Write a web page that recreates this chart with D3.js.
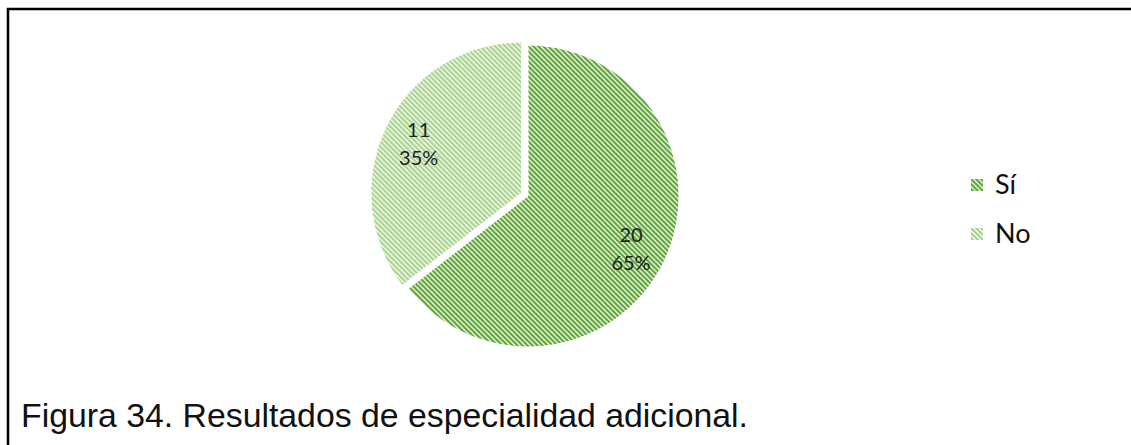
<!doctype html>
<html>
<head>
  <style>
      body { margin:0; background:#fff; }
      svg  { display:block; }
      .lbl { font-family:Lato, "Open Sans", sans-serif; font-size:20px; fill:#222; text-anchor:middle; }
      .leg { font-family:Lato, "Open Sans", sans-serif; font-size:27px; fill:#111; }
      .cap { font-family:"Liberation Sans", Arial, sans-serif; font-size:33px; fill:#111; }
  </style>
  <script src="https://d3js.org/d3.v7.min.js"></script>
</head>
<body>
  <script>
      // data
      var categories = ["Sí", "No"];
      var counts = [20, 11];
      var percents = ["65%", "35%"];
      var fgColors = ["#5fa23a", "#a3cf87"];
      var bgColors = ["#d6ebc9", "#f0f8ea"];

      var W = 1131, H = 445;
      var cx = 528, cy = 196, R = 151;
      var explode = [0, 7];

      var svg = d3.select("body").append("svg")
         .attr("width", W)
         .attr("height", H);

      // frame: only top and left lines
      svg.append("line").attr("x1", 7).attr("y1", 9).attr("x2", W).attr("y2", 9)
         .attr("stroke", "#000").attr("stroke-width", 2.5);
      svg.append("line").attr("x1", 8).attr("y1", 8).attr("x2", 8).attr("y2", H)
         .attr("stroke", "#000").attr("stroke-width", 2.5);

      // striped patterns
      var defs = svg.append("defs");
      categories.forEach(function(c, i) {
         var p = defs.append("pattern")
            .attr("id", "pat" + i)
            .attr("patternUnits", "userSpaceOnUse")
            .attr("width", 5).attr("height", 5);
         p.append("rect").attr("width", 5).attr("height", 5).attr("fill", bgColors[i]);
         p.append("path")
            .attr("d", "M-1,-1 L6,6 M-1,4 L1,6 M4,-1 L6,1")
            .attr("stroke", fgColors[i])
            .attr("stroke-width", 1.9);
      });

      var pie = d3.pie().sort(null).value(function(d) { return d; });
      var arcs = pie(counts);
      var arc = d3.arc().innerRadius(0).outerRadius(R);
      var labelArc = d3.arc().innerRadius(R * 0.76).outerRadius(R * 0.76);

      var g = svg.append("g").attr("transform", "translate(" + cx + "," + cy + ")");

      var slice = g.selectAll("g.slice")
         .data(arcs)
         .enter()
         .append("g")
         .attr("class", "slice")
         .attr("transform", function(d, i) {
            var a = (d.startAngle + d.endAngle) / 2;
            return "translate(" + (Math.sin(a) * explode[i]) + "," + (-Math.cos(a) * explode[i]) + ")";
         });

      slice.append("path")
         .attr("d", arc)
         .attr("fill", function(d, i) { return "url(#pat" + i + ")"; })
         .attr("stroke", "#fff")
         .attr("stroke-width", 1);

      var t = slice.append("text")
         .attr("class", "lbl")
         .attr("transform", function(d) {
            var c = labelArc.centroid(d);
            return "translate(" + c[0] + "," + c[1] + ")";
         });
      t.append("tspan").attr("x", 0).attr("dy", "-0.25em").text(function(d, i) { return counts[i]; });
      t.append("tspan").attr("x", 0).attr("dy", "1.4em").text(function(d, i) { return percents[i]; });

      // legend
      var leg = svg.append("g").selectAll("g")
         .data(categories)
         .enter()
         .append("g")
         .attr("transform", function(d, i) { return "translate(971," + (179 + i * 49) + ")"; });
      leg.append("rect")
         .attr("width", 12).attr("height", 12)
         .attr("fill", function(d, i) { return "url(#pat" + i + ")"; });
      leg.append("text")
         .attr("class", "leg")
         .attr("x", 24).attr("y", 15)
         .text(function(d) { return d; });

      svg.append("text")
         .attr("class", "cap")
         .attr("x", 21).attr("y", 427)
         .attr("textLength", 727)
         .attr("lengthAdjust", "spacingAndGlyphs")
         .text("Figura 34. Resultados de especialidad adicional.");
  </script>
</body>
</html>
